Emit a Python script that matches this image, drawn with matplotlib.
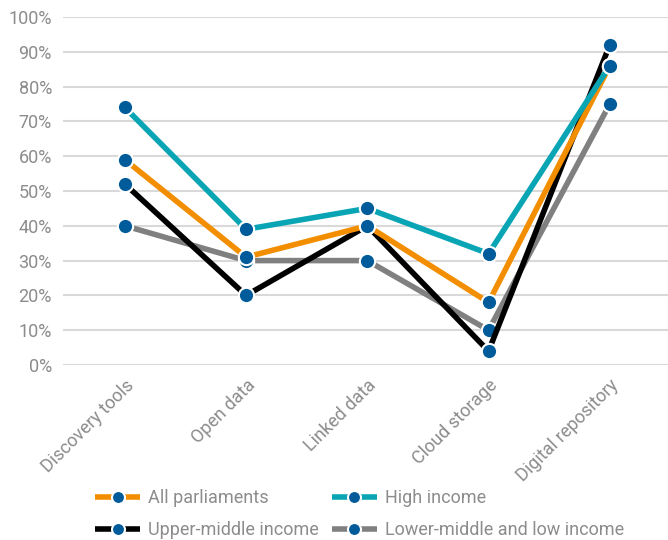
import matplotlib
matplotlib.use("Agg")
import matplotlib.pyplot as plt
from matplotlib import font_manager

categories = ["Discovery tools", "Open data", "Linked data", "Cloud storage", "Digital repository"]
all_parliaments = [59, 31, 40, 18, 86]
high_income = [74, 39, 45, 32, 86]
upper_middle = [52, 20, 40, 4, 92]
lower_middle_low = [40, 30, 30, 10, 75]
y_ticks = [0, 10, 20, 30, 40, 50, 60, 70, 80, 90, 100]

names = {f.name for f in font_manager.fontManager.ttflist}
family = "Liberation Sans Narrow" if "Liberation Sans Narrow" in names else "Roboto"
plt.rcParams["font.family"] = [family, "DejaVu Sans"]

text_color = "#8c8c8c"
marker_color = "#005b9a"

fig = plt.figure(figsize=(6.68, 5.40), dpi=100)
ax = fig.add_axes([63 / 668, 1 - 365 / 540, 605 / 668, 348 / 540])

series = [
    ("Lower-middle and low income", lower_middle_low, "#808080"),
    ("Upper-middle income", upper_middle, "#000000"),
    ("All parliaments", all_parliaments, "#f28e00"),
    ("High income", high_income, "#0aa5b5"),
]
x = list(range(len(categories)))
handles = {}
for z, (label, vals, color) in enumerate(series):
    h, = ax.plot(x, vals, color=color, lw=4, solid_capstyle="butt",
                 marker="o", markersize=11, markerfacecolor=marker_color,
                 markeredgecolor="white", markeredgewidth=1.5,
                 label=label, zorder=3 + z)
    handles[label] = h

ax.set_xlim(-0.51, 4.48)
ax.set_ylim(0, 100)
ax.set_yticks(y_ticks)
ax.set_yticklabels([f"{v}%" for v in y_ticks])
ax.set_xticks(x)
ax.set_xticklabels(categories, rotation=45, ha="right", rotation_mode="anchor")
ax.tick_params(axis="both", length=0, colors=text_color, labelsize=13)
ax.tick_params(axis="y", pad=8)
ax.tick_params(axis="x", pad=8)
for s in ax.spines.values():
    s.set_visible(False)
ax.yaxis.grid(True, color="#d9d9d9", lw=1.5)
ax.set_axisbelow(True)
for line in ax.get_lines():
    line.set_clip_on(False)

# column-major fill: rows read All / High, then Upper / Lower
order = ["All parliaments", "Upper-middle income", "High income", "Lower-middle and low income"]
leg = fig.legend([handles[k] for k in order], order, ncol=2,
                 loc="upper left", bbox_to_anchor=(86 / 668, 1 - 480 / 540),
                 frameon=False, fontsize=13, handlelength=2.5,
                 columnspacing=0.7, labelspacing=0.8, handletextpad=0.45,
                 markerscale=0.85, borderpad=0)
for t in leg.get_texts():
    t.set_color(text_color)

fig.savefig("out.png", dpi=100)
